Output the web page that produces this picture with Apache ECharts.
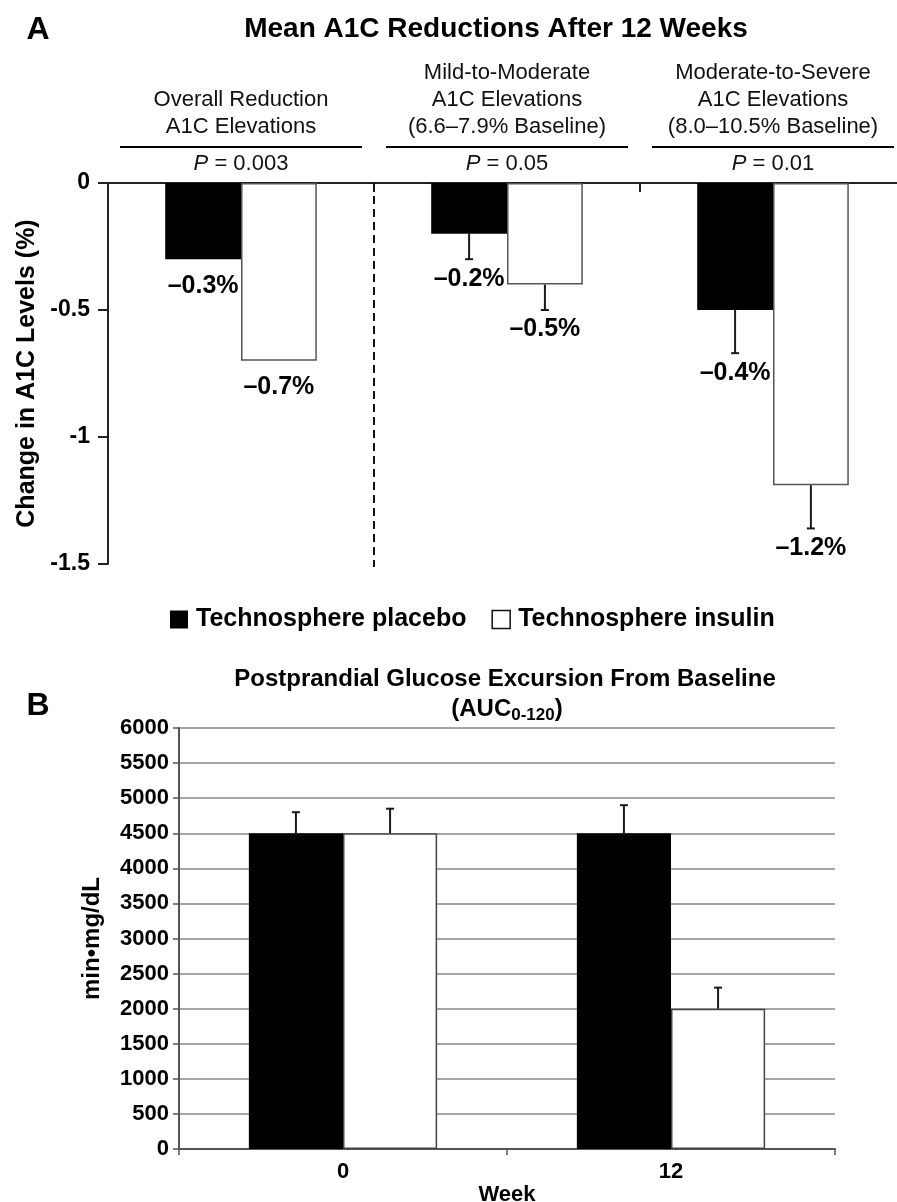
<!DOCTYPE html>
<html><head><meta charset="utf-8">
<script src="https://cdn.jsdelivr.net/npm/echarts@6/dist/echarts.min.js"></script>
<style>html,body{margin:0;padding:0;background:#fff}#c{width:897px;height:1202px}</style>
</head><body><div id="c"></div>
<script>
// ---- Panel A data ----
const groupsA = ['Overall', 'Mild-to-Moderate', 'Moderate-to-Severe'];
const groupTitlesA = [
  ['Overall Reduction', 'A1C Elevations'],
  ['Mild-to-Moderate', 'A1C Elevations', '(6.6–7.9% Baseline)'],
  ['Moderate-to-Severe', 'A1C Elevations', '(8.0–10.5% Baseline)']
];
const pValuesA = ['0.003', '0.05', '0.01'];
const placeboA = [-0.3, -0.2, -0.5];
const insulinA = [-0.7, -0.4, -1.19];
const placeboErrA = [null, -0.30, -0.67];
const insulinErrA = [null, -0.50, -1.36];
const placeboLabelsA = ['–0.3%', '–0.2%', '–0.4%'];
const insulinLabelsA = ['–0.7%', '–0.5%', '–1.2%'];
const yTicksA = [-1.5, -1, -0.5, 0];

// ---- Panel B data ----
const weeksB = ['0', '12'];
const placeboB = [4500, 4500];
const insulinB = [4500, 2000];
const placeboErrB = [4800, 4900];
const insulinErrB = [4850, 2300];
const yTicksB = [0, 500, 1000, 1500, 2000, 2500, 3000, 3500, 4000, 4500, 5000, 5500, 6000];

const NAME_P = 'Technosphere placebo';
const NAME_I = 'Technosphere insulin';
const FONT = '"Liberation Sans", Arial, Helvetica, sans-serif';

function errSeries(gridIdx, side, ratio, vals, errs, labels) {
  return {
    type: 'custom',
    xAxisIndex: gridIdx, yAxisIndex: gridIdx,
    z: 10,
    silent: true,
    data: vals.map((v, i) => [i, v]),
    renderItem: function (params, api) {
      const i = params.dataIndex;
      const c = api.value(0), v = api.value(1);
      const band = api.size([1, 0])[0];
      const bw = band * ratio;
      const x = api.coord([c, 0])[0] + side * bw / 2;
      const yBar = api.coord([c, v])[1];
      const children = [];
      let yEnd = yBar;
      const e = errs[i];
      const hasErr = (e !== null && e !== undefined);
      if (hasErr) {
        yEnd = api.coord([c, e])[1];
        children.push({ type: 'line', shape: { x1: x, y1: yBar, x2: x, y2: yEnd },
          style: { stroke: '#1a1a1a', lineWidth: 2 } });
        children.push({ type: 'line', shape: { x1: x - 4, y1: yEnd, x2: x + 4, y2: yEnd },
          style: { stroke: '#1a1a1a', lineWidth: 2 } });
      }
      if (labels) {
        children.push({ type: 'text', x: x, y: yEnd + (hasErr ? 7 : 14),
          style: { text: labels[i], align: 'center', verticalAlign: 'top',
            font: 'bold 25px ' + FONT, fill: '#000' } });
      }
      return { type: 'group', children: children };
    }
  };
}

// dashed separator between the first group and the two subgroups (at category boundary)
const separatorA = {
  type: 'custom', xAxisIndex: 0, yAxisIndex: 0, z: 12, silent: true,
  data: [[0, 0]],
  renderItem: function (params, api) {
    const band = api.size([1, 0])[0];
    const x = api.coord([0, 0])[0] + band / 2;
    const yTop = api.coord([0, yTicksA[yTicksA.length - 1]])[1];
    const yBot = api.coord([0, yTicksA[0]])[1];
    return { type: 'line', shape: { x1: x, y1: yTop, x2: x, y2: yBot + 3 },
      style: { stroke: '#111', lineWidth: 2, lineDash: [8, 5] } };
  }
};

const chart = echarts.init(document.getElementById('c'), null, { renderer: 'canvas' });
const option = {
  animation: false,
  backgroundColor: '#fff',
  textStyle: { fontFamily: FONT, color: '#000' },
  graphic: [
    { type: 'text', x: 38, y: 30, style: { text: 'A', font: 'bold 32px ' + FONT, fill: '#000', align: 'center', verticalAlign: 'middle' } },
    { type: 'text', x: 496, y: 29, style: { text: 'Mean A1C Reductions After 12 Weeks', font: 'bold 28px ' + FONT, fill: '#000', align: 'center', verticalAlign: 'middle' } },
    { type: 'text', x: 38, y: 706, style: { text: 'B', font: 'bold 32px ' + FONT, fill: '#000', align: 'center', verticalAlign: 'middle' } },
    { type: 'text', x: 505, y: 679, style: { text: 'Postprandial Glucose Excursion From Baseline', font: 'bold 24px ' + FONT, fill: '#000', align: 'center', verticalAlign: 'middle' } },
    { type: 'text', x: 507, y: 709, style: {
        text: '{a|(AUC}{s|0-120}{a|)}', align: 'center', verticalAlign: 'middle',
        rich: {
          a: { font: 'bold 24px ' + FONT, fill: '#000', lineHeight: 30 },
          s: { font: 'bold 17px ' + FONT, fill: '#000', lineHeight: 30, padding: [12, 0, 0, 0] }
        } } }
  ],
  legend: {
    left: 165, top: 602,
    icon: 'rect', itemWidth: 18, itemHeight: 18, itemGap: 25,
    textStyle: { fontSize: 25, fontWeight: 'bold', color: '#000', fontFamily: FONT, padding: [0, 0, 0, 3] },
    data: [
      { name: NAME_P, itemStyle: { color: '#000', borderWidth: 0 } },
      { name: NAME_I, itemStyle: { color: '#fff', borderColor: '#111', borderWidth: 1.5 } }
    ]
  },
  grid: [
    { left: 108, top: 183, width: 798, height: 381, outerBoundsMode: 'none', containLabel: false },
    { left: 179, top: 728, width: 656, height: 421, outerBoundsMode: 'none', containLabel: false }
  ],
  xAxis: [
    {
      type: 'category', gridIndex: 0, position: 'top', data: groupsA,
      axisLine: { show: true, lineStyle: { color: '#222', width: 2 } },
      axisTick: { show: true, inside: true, length: 9, interval: 0, lineStyle: { color: '#222', width: 2 } },
      splitLine: { show: false },
      axisLabel: {
        interval: 0, margin: 9, color: '#111',
        formatter: function (v, i) {
          const lines = groupTitlesA[i].map(s => '{t|' + s + '}');
          lines.push('{ln|}');
          lines.push('{i|P}{p| = ' + pValuesA[i] + '}');
          return lines.join('\n');
        },
        rich: {
          t: { fontSize: 22, lineHeight: 27, color: '#111', fontFamily: FONT },
          ln: { width: 242, height: 2, lineHeight: 14, backgroundColor: '#000' },
          i: { fontSize: 22, lineHeight: 20, fontStyle: 'italic', color: '#111', fontFamily: FONT },
          p: { fontSize: 22, lineHeight: 20, color: '#111', fontFamily: FONT }
        }
      }
    },
    {
      type: 'category', gridIndex: 1, position: 'bottom', data: weeksB,
      axisLine: { show: true, lineStyle: { color: '#555', width: 2 } },
      axisTick: { show: true, length: 6, interval: 0, lineStyle: { color: '#555', width: 1.5 } },
      axisLabel: { interval: 0, margin: 12, fontSize: 22, fontWeight: 'bold', color: '#000' },
      name: 'Week', nameLocation: 'middle', nameGap: 32,
      nameTextStyle: { fontSize: 22, fontWeight: 'bold', color: '#000' }
    }
  ],
  yAxis: [
    {
      type: 'value', gridIndex: 0,
      min: yTicksA[0], max: yTicksA[yTicksA.length - 1], interval: yTicksA[1] - yTicksA[0],
      axisLine: { show: true, lineStyle: { color: '#222', width: 2 } },
      axisTick: { show: true, length: 10, lineStyle: { color: '#222', width: 2 } },
      splitLine: { show: false },
      axisLabel: { margin: 18, fontSize: 23, fontWeight: 'bold', color: '#000',
        formatter: function (v) { return String(v); } },
      name: 'Change in A1C Levels (%)', nameLocation: 'middle', nameGap: 67,
      nameTextStyle: { fontSize: 25, fontWeight: 'bold', color: '#000' }
    },
    {
      type: 'value', gridIndex: 1,
      min: yTicksB[0], max: yTicksB[yTicksB.length - 1], interval: yTicksB[1] - yTicksB[0],
      axisLine: { show: true, lineStyle: { color: '#555', width: 2 } },
      axisTick: { show: true, length: 6, lineStyle: { color: '#555', width: 1.5 } },
      splitLine: { show: true, lineStyle: { color: '#888', width: 1.5 } },
      axisLabel: { margin: 10, fontSize: 22, fontWeight: 'bold', color: '#000',
        formatter: function (v) { return String(v); } },
      name: 'min•mg/dL', nameLocation: 'middle', nameGap: 75,
      nameTextStyle: { fontSize: 24, fontWeight: 'bold', color: '#000' }
    }
  ],
  series: [
    { name: NAME_P, type: 'bar', xAxisIndex: 0, yAxisIndex: 0, data: placeboA,
      barWidth: '28.5%', barGap: '0%', itemStyle: { color: '#000' } },
    { name: NAME_I, type: 'bar', xAxisIndex: 0, yAxisIndex: 0, data: insulinA,
      barWidth: '28.5%', barGap: '0%', itemStyle: { color: '#fff', borderColor: '#555', borderWidth: 1.5 } },
    errSeries(0, -1, 0.285, placeboA, placeboErrA, placeboLabelsA),
    errSeries(0, 1, 0.285, insulinA, insulinErrA, insulinLabelsA),
    separatorA,

    { name: NAME_P, type: 'bar', xAxisIndex: 1, yAxisIndex: 1, data: placeboB,
      barWidth: '28.7%', barGap: '0%', itemStyle: { color: '#000' } },
    { name: NAME_I, type: 'bar', xAxisIndex: 1, yAxisIndex: 1, data: insulinB,
      barWidth: '28.7%', barGap: '0%', itemStyle: { color: '#fff', borderColor: '#444', borderWidth: 1.5 } },
    errSeries(1, -1, 0.287, placeboB, placeboErrB, null),
    errSeries(1, 1, 0.287, insulinB, insulinErrB, null)
  ]
};
chart.setOption(option);
</script>
</body></html>
